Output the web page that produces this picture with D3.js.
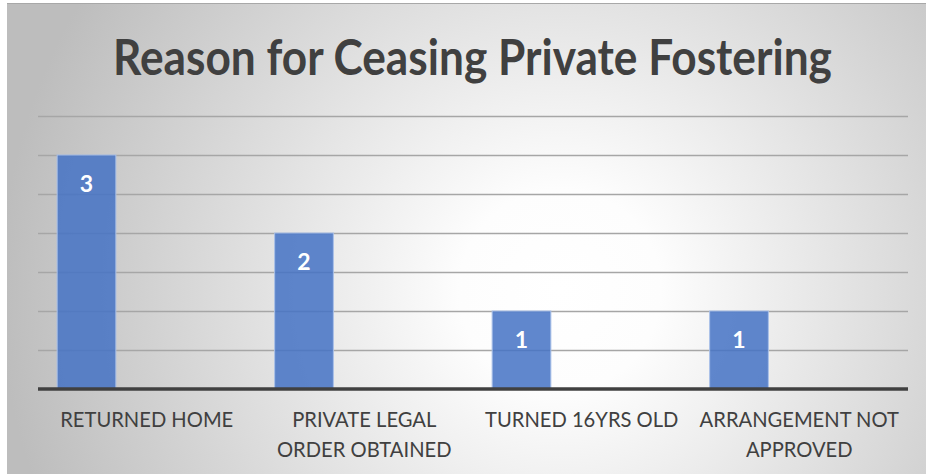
<!DOCTYPE html>
<html><head><meta charset="utf-8">
<script src="https://cdn.jsdelivr.net/npm/d3@7"></script>
<style>html,body{margin:0;padding:0;background:#fff;overflow:hidden}</style>
</head><body>
<svg id="chart" width="926" height="474"></svg>
<script>
const title = "Reason for Ceasing Private Fostering";
const categories = [["RETURNED HOME"], ["PRIVATE LEGAL", "ORDER OBTAINED"], ["TURNED 16YRS OLD"], ["ARRANGEMENT NOT", "APPROVED"]];
const values = [3, 2, 1, 1];
const gridTicks = [0.5, 1, 1.5, 2, 2.5, 3, 3.5];

const svg = d3.select("#chart");
const defs = svg.append("defs");
const grad = defs.append("radialGradient").attr("id", "bg")
  .attr("gradientUnits", "userSpaceOnUse")
  .attr("cx", 560).attr("cy", 290).attr("r", 560);
grad.append("stop").attr("offset", "0%").attr("stop-color", "#ffffff");
grad.append("stop").attr("offset", "18%").attr("stop-color", "#fdfdfd");
grad.append("stop").attr("offset", "100%").attr("stop-color", "#bdbdbd");

svg.append("rect").attr("x", 7).attr("y", 3).attr("width", 919).attr("height", 471).attr("fill", "url(#bg)");
svg.append("line").attr("x1", 7).attr("x2", 926).attr("y1", 3.5).attr("y2", 3.5).attr("stroke", "#a8a8a8").attr("stroke-width", 1);

const left = 38, right = 908, baseY = 389;
const x = d3.scaleBand().domain(categories.map((d, i) => i)).range([left, right]).padding(0);
const y = d3.scaleLinear().domain([0, 3.5]).range([baseY, 116]);

svg.append("g").selectAll("line").data(gridTicks).join("line")
  .attr("x1", left).attr("x2", right)
  .attr("y1", d => Math.round(y(d)) + 0.5).attr("y2", d => Math.round(y(d)) + 0.5)
  .attr("stroke", "#a6a6a6").attr("stroke-width", 1.3);

const bw = x.bandwidth();
const barW = bw * 0.27;
const off = bw * 0.088;
svg.append("g").selectAll("rect").data(values).join("rect")
  .attr("x", (d, i) => x(i) + off)
  .attr("y", d => y(d))
  .attr("width", barW)
  .attr("height", d => baseY - y(d))
  .attr("fill", "#4472c4").attr("fill-opacity", 0.85)
  .attr("stroke", "#a9c0e8").attr("stroke-width", 1);

svg.append("line").attr("x1", left).attr("x2", right).attr("y1", baseY).attr("y2", baseY)
  .attr("stroke", "#404040").attr("stroke-width", 3.5);

svg.append("g").selectAll("text").data(values).join("text")
  .attr("x", (d, i) => x(i) + off + barW / 2)
  .attr("y", d => y(d) + 37)
  .attr("text-anchor", "middle")
  .attr("font-family", "Lato, 'Open Sans', sans-serif")
  .attr("font-weight", "bold").attr("font-size", 23)
  .attr("fill", "#ffffff")
  .text(d => d);

const cl = svg.append("g").selectAll("text").data(categories).join("text")
  .attr("x", (d, i) => x(i) + bw / 2)
  .attr("y", 427)
  .attr("text-anchor", "middle")
  .attr("font-family", "Lato, 'Open Sans', sans-serif")
  .attr("font-size", 21)
  .attr("fill", "#404040")
  .attr("transform", (d, i) => `translate(${x(i) + bw / 2},0) scale(0.96,1) translate(${-(x(i) + bw / 2)},0)`);
cl.selectAll("tspan").data(d => d).join("tspan")
  .attr("x", function () { return this.parentNode.getAttribute("x"); })
  .attr("dy", (d, j) => j === 0 ? 0 : 30)
  .text(d => d);

const t = svg.append("text")
  .attr("x", 472.5).attr("y", 75)
  .attr("text-anchor", "middle")
  .attr("font-family", "Lato, 'Open Sans', sans-serif")
  .attr("font-weight", "bold").attr("font-size", 50)
  .attr("fill", "#404040")
  .text(title);
const tw = t.node().getComputedTextLength();
t.attr("transform", `translate(472.5,0) scale(${719 / tw},1) translate(-472.5,0)`);
</script>
</body></html>
